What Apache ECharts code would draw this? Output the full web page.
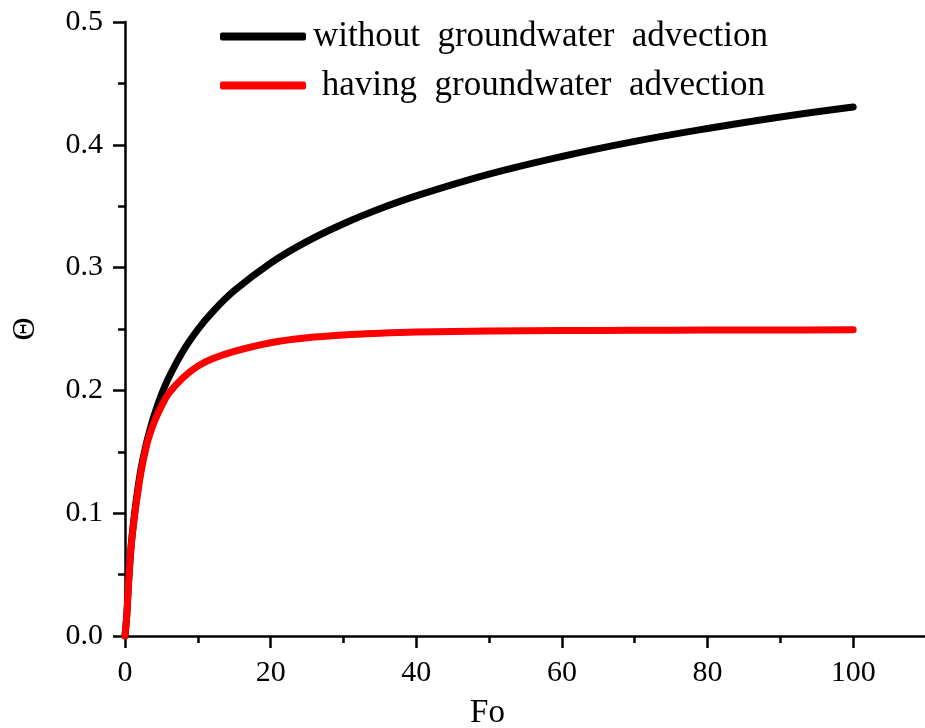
<!DOCTYPE html>
<html>
<head>
<meta charset="utf-8">
<script src="https://cdn.jsdelivr.net/npm/echarts@6/dist/echarts.min.js"></script>
<style>
html,body{margin:0;padding:0;background:#fff;}
#chart{width:925px;height:728px;}
</style>
</head>
<body>
<div id="chart"></div>
<script>
// Data
const fo = [0, 0.25, 0.5, 1, 2, 3, 4, 5, 6, 8, 10, 12, 15, 20, 25, 30, 35, 40, 50, 60, 70, 80, 90, 100];
const withoutAdvection = [0, 0.0175, 0.0445, 0.0831, 0.1292, 0.1583, 0.1796, 0.1964, 0.2103, 0.2323, 0.2496, 0.2638, 0.2812, 0.3037, 0.3213, 0.3357, 0.3479, 0.3584, 0.3761, 0.3905, 0.4028, 0.4133, 0.4227, 0.4308];
const withAdvection = [0, 0.0175, 0.0445, 0.0825, 0.1265, 0.156, 0.174, 0.187, 0.1975, 0.2105, 0.2198, 0.2258, 0.2318, 0.2388, 0.2428, 0.2452, 0.2466, 0.2475, 0.2483, 0.2487, 0.249, 0.2491, 0.2492, 0.2493];
const seriesNames = ['without  groundwater  advection', ' having  groundwater  advection'];
const xMajorTicks = [0, 20, 40, 60, 80, 100];
const xMinorTicks = [10, 30, 50, 70, 90];
const xName = 'Fo';
const yName = '\u0398';

const font = '"Liberation Serif", "Times New Roman", serif';
const toPairs = (xs, ys) => xs.map((x, i) => [x, ys[i]]);

const chart = echarts.init(document.getElementById('chart'));
chart.setOption({
  animation: false,
  backgroundColor: '#fff',
  grid: { left: 125, right: -1, top: 22, bottom: 92, containLabel: false, outerBoundsMode: 'none' },
  legend: {
    orient: 'vertical',
    left: 220,
    top: 19,
    padding: 0,
    icon: 'roundRect',
    itemWidth: 86,
    itemHeight: 8,
    itemGap: 14,
    textStyle: { fontFamily: font, fontSize: 35, color: '#000', lineHeight: 32, padding: [0, 0, 0, 2] },
    data: seriesNames
  },
  xAxis: [
    {
      type: 'value', min: 0, max: 110,
      name: xName, nameLocation: 'middle', nameGap: 61,
      nameTextStyle: { fontFamily: font, fontSize: 33, color: '#000', padding: [0, 76, 0, 0] },
      axisLine: { lineStyle: { color: '#000', width: 2.5 } },
      axisTick: { show: true, length: 12, lineStyle: { color: '#000', width: 2.5 }, customValues: xMajorTicks },
      axisLabel: { fontFamily: font, fontSize: 30, color: '#000', margin: 22, customValues: xMajorTicks },
      splitLine: { show: false }
    },
    {
      type: 'value', min: 0, max: 110, position: 'bottom',
      axisLine: { show: false },
      axisTick: { show: true, length: 7, lineStyle: { color: '#000', width: 2.5 }, customValues: xMinorTicks },
      axisLabel: { show: false },
      splitLine: { show: false }
    }
  ],
  yAxis: {
    type: 'value', min: 0, max: 0.5, interval: 0.1,
    name: yName, nameLocation: 'middle', nameGap: 83, nameRotate: 90,
    nameTextStyle: { fontFamily: font, fontSize: 32, color: '#000' },
    axisLine: { show: true, lineStyle: { color: '#000', width: 2.5 } },
    axisTick: { show: true, length: 12, lineStyle: { color: '#000', width: 2.5 } },
    minorTick: { show: true, splitNumber: 2, length: 7, lineStyle: { color: '#000', width: 2.5 } },
    axisLabel: { fontFamily: font, fontSize: 30, color: '#000', margin: 22, formatter: v => v.toFixed(1) },
    splitLine: { show: false }
  },
  series: [
    {
      name: seriesNames[0], type: 'line', xAxisIndex: 0,
      data: toPairs(fo, withoutAdvection),
      smooth: 0.4, symbol: 'none',
      color: '#000',
      lineStyle: { color: '#000', width: 7, cap: 'round', join: 'round' },
      z: 2
    },
    {
      name: seriesNames[1], type: 'line', xAxisIndex: 0,
      data: toPairs(fo, withAdvection),
      smooth: 0.4, symbol: 'none',
      color: '#ff0000',
      lineStyle: { color: '#ff0000', width: 7, cap: 'round', join: 'round' },
      z: 3
    }
  ]
});
</script>
</body>
</html>
